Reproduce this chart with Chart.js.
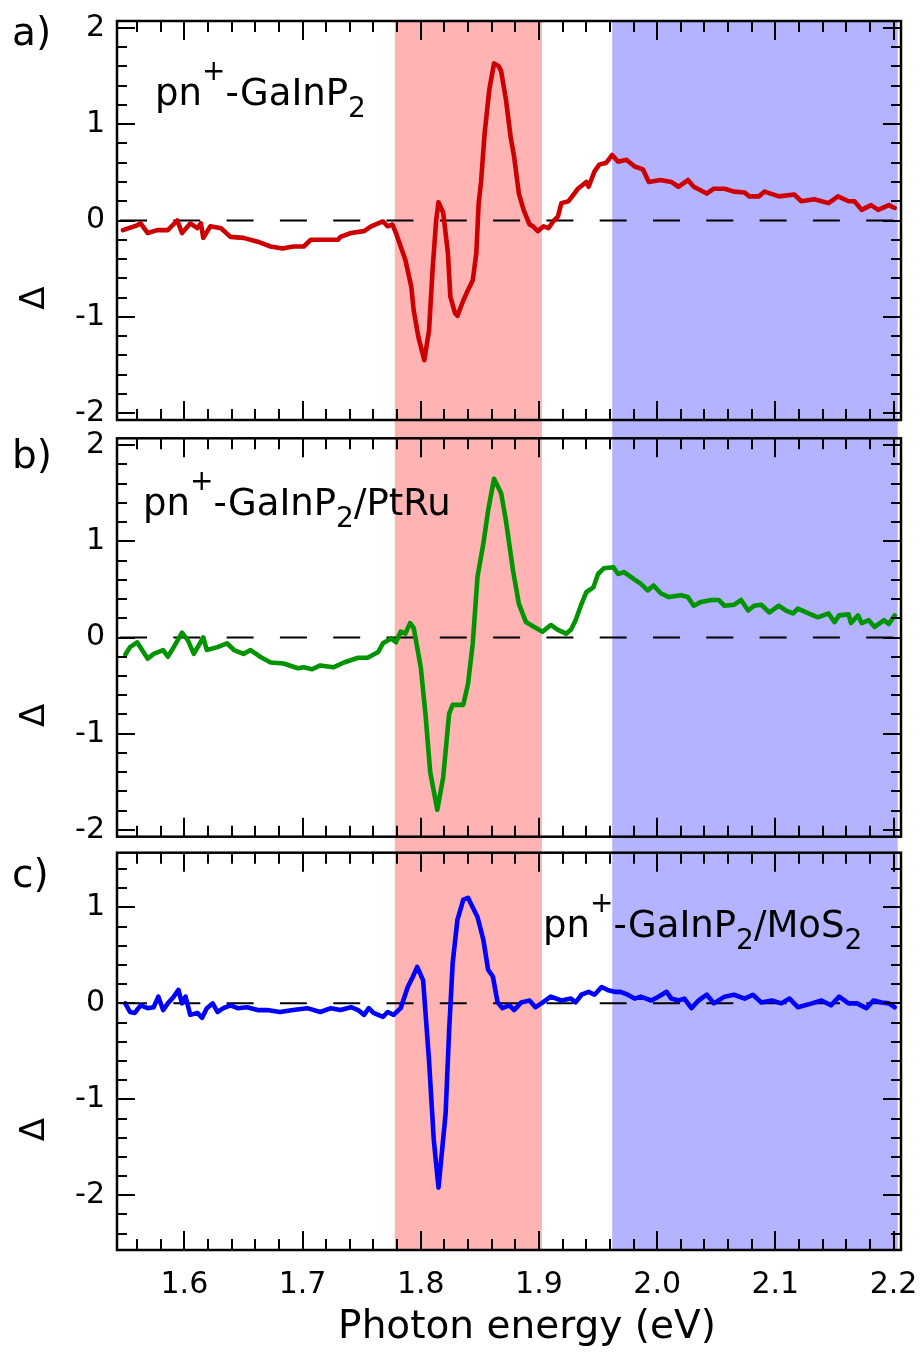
<!DOCTYPE html>
<html><head><meta charset="utf-8">
<script src="https://cdn.jsdelivr.net/npm/chart.js@4.4.0/dist/chart.umd.min.js"></script>
<style>
html,body{margin:0;padding:0;background:#fff;}
#wrap{position:relative;width:921px;height:1352px;}
.panel{position:absolute;left:0;width:921px;}
</style></head><body>
<div id="wrap">
<div class="panel" style="top:0;height:430px"><canvas id="ca"></canvas></div>
<div class="panel" style="top:430px;height:415px"><canvas id="cb"></canvas></div>
<div class="panel" style="top:845px;height:507px"><canvas id="cc"></canvas></div>
</div>
<script>
// ---------- data (photon energy in eV, Δ values) ----------
const energyA = [1.548,1.560,1.563,1.569,1.577,1.586,1.594,1.598,1.605,1.611,1.614,1.616,1.622,1.631,1.639,1.650,1.662,1.673,1.683,1.692,1.701,1.707,1.718,1.730,1.732,1.741,1.752,1.758,1.768,1.772,1.776,1.779,1.783,1.787,1.792,1.794,1.798,1.803,1.807,1.810,1.813,1.815,1.819,1.823,1.825,1.829,1.831,1.836,1.840,1.844,1.847,1.849,1.851,1.854,1.858,1.862,1.866,1.868,1.872,1.876,1.879,1.883,1.887,1.892,1.895,1.899,1.904,1.908,1.912,1.916,1.919,1.925,1.930,1.933,1.940,1.942,1.947,1.951,1.957,1.962,1.967,1.974,1.981,1.988,1.993,2.003,2.012,2.018,2.026,2.031,2.042,2.048,2.057,2.065,2.074,2.078,2.086,2.091,2.103,2.116,2.122,2.133,2.145,2.153,2.162,2.167,2.173,2.181,2.187,2.196,2.201];
const deltaA = [-0.10,-0.05,-0.03,-0.13,-0.10,-0.10,0.00,-0.13,-0.03,-0.08,-0.03,-0.18,-0.06,-0.08,-0.17,-0.18,-0.22,-0.27,-0.29,-0.27,-0.27,-0.20,-0.20,-0.20,-0.17,-0.13,-0.11,-0.06,-0.01,-0.06,-0.04,-0.13,-0.27,-0.41,-0.69,-0.93,-1.21,-1.45,-1.14,-0.51,0.00,0.19,0.08,-0.34,-0.79,-0.96,-0.99,-0.83,-0.72,-0.62,-0.34,0.18,0.40,0.90,1.36,1.63,1.60,1.55,1.26,0.87,0.66,0.28,0.11,-0.04,-0.06,-0.11,-0.06,-0.08,-0.01,0.04,0.18,0.20,0.28,0.33,0.40,0.35,0.51,0.58,0.60,0.68,0.61,0.63,0.56,0.53,0.40,0.42,0.40,0.35,0.42,0.35,0.28,0.33,0.33,0.30,0.29,0.25,0.25,0.30,0.25,0.27,0.20,0.22,0.18,0.25,0.20,0.20,0.11,0.16,0.11,0.16,0.13];

const energyB = [1.550,1.554,1.560,1.569,1.574,1.582,1.586,1.591,1.598,1.603,1.608,1.616,1.619,1.628,1.636,1.642,1.650,1.656,1.664,1.673,1.684,1.696,1.701,1.708,1.715,1.726,1.735,1.747,1.755,1.764,1.768,1.775,1.779,1.783,1.787,1.791,1.794,1.800,1.804,1.808,1.814,1.819,1.824,1.827,1.836,1.840,1.844,1.848,1.853,1.857,1.862,1.868,1.872,1.878,1.883,1.889,1.896,1.903,1.910,1.916,1.923,1.927,1.931,1.936,1.940,1.946,1.950,1.955,1.963,1.967,1.972,1.980,1.986,1.992,1.997,2.003,2.010,2.020,2.026,2.031,2.037,2.046,2.052,2.057,2.065,2.071,2.077,2.082,2.088,2.095,2.103,2.109,2.115,2.119,2.128,2.136,2.145,2.150,2.154,2.162,2.164,2.170,2.173,2.179,2.184,2.192,2.196,2.201];
const deltaB = [-0.18,-0.10,-0.05,-0.22,-0.17,-0.13,-0.20,-0.10,0.05,-0.03,-0.17,0.00,-0.13,-0.10,-0.06,-0.13,-0.17,-0.13,-0.20,-0.26,-0.27,-0.32,-0.31,-0.33,-0.29,-0.31,-0.26,-0.21,-0.21,-0.15,-0.06,-0.01,-0.05,0.06,0.04,0.15,0.10,-0.31,-0.80,-1.40,-1.79,-1.45,-0.79,-0.70,-0.70,-0.48,-0.06,0.63,0.98,1.32,1.65,1.50,1.22,0.70,0.35,0.16,0.11,0.06,0.13,0.08,0.04,0.08,0.18,0.35,0.47,0.52,0.66,0.72,0.73,0.66,0.68,0.61,0.56,0.49,0.54,0.46,0.42,0.44,0.42,0.33,0.37,0.39,0.39,0.33,0.34,0.39,0.28,0.33,0.34,0.26,0.33,0.28,0.25,0.30,0.25,0.21,0.25,0.16,0.23,0.24,0.15,0.23,0.15,0.18,0.11,0.18,0.14,0.23];

const energyC = [1.550,1.554,1.558,1.563,1.569,1.574,1.578,1.582,1.586,1.591,1.595,1.598,1.601,1.605,1.611,1.615,1.619,1.624,1.628,1.633,1.639,1.645,1.653,1.662,1.670,1.681,1.692,1.704,1.715,1.724,1.732,1.741,1.747,1.752,1.756,1.760,1.768,1.772,1.777,1.783,1.789,1.793,1.797,1.802,1.807,1.811,1.815,1.821,1.824,1.827,1.831,1.836,1.840,1.844,1.848,1.853,1.857,1.861,1.865,1.869,1.875,1.879,1.885,1.892,1.897,1.902,1.910,1.919,1.927,1.931,1.936,1.942,1.947,1.953,1.958,1.964,1.969,1.975,1.981,1.986,1.995,2.001,2.008,2.012,2.018,2.023,2.029,2.035,2.042,2.048,2.057,2.065,2.074,2.081,2.088,2.097,2.105,2.112,2.119,2.131,2.139,2.147,2.154,2.162,2.169,2.177,2.183,2.190,2.196,2.201];
const deltaC = [0.00,-0.09,-0.10,-0.02,-0.05,-0.04,0.07,-0.07,0.00,0.07,0.14,0.00,0.07,-0.12,-0.10,-0.15,-0.05,0.00,-0.09,-0.05,-0.02,-0.05,-0.04,-0.07,-0.07,-0.09,-0.07,-0.05,-0.09,-0.05,-0.07,-0.04,-0.07,-0.12,-0.05,-0.10,-0.14,-0.09,-0.12,-0.05,0.17,0.27,0.38,0.24,-0.60,-1.42,-1.92,-1.15,-0.28,0.42,0.87,1.08,1.10,1.00,0.90,0.66,0.35,0.28,0.01,-0.05,-0.02,-0.07,0.01,0.03,-0.04,0.00,0.07,0.03,0.05,0.01,0.09,0.12,0.09,0.17,0.14,0.12,0.12,0.09,0.05,0.07,0.03,0.07,0.12,0.05,0.03,0.05,-0.05,0.03,0.09,0.00,0.07,0.09,0.05,0.09,0.01,0.03,0.00,0.05,-0.04,0.00,0.03,-0.02,0.07,0.00,0.00,-0.05,0.03,0.01,0.00,-0.04];

const xTickValues = [1.6, 1.7, 1.8, 1.9, 2.0, 2.1, 2.2];
const xTickLabels = ['1.6', '1.7', '1.8', '1.9', '2.0', '2.1', '2.2'];
const yTicksAB = [-2, -1, 0, 1, 2];
const yTicksC = [-2, -1, 0, 1];
const xRange = [1.543, 2.2063];
const yRangeAB = [-2.07, 2.07];
const yRangeC = [-2.57, 1.57];
const pinkBand = [1.778, 1.9025];
const blueBand = [1.962, 2.2035];
const panelLabels = ['a)', 'b)', 'c)'];
const sampleA = [['pn','n'],['+','sup'],['-GaInP','n'],['2','sub']];
const sampleB = [['pn','n'],['+','sup'],['-GaInP','n'],['2','sub'],['/PtRu','n']];
const sampleC = [['pn','n'],['+','sup'],['-GaInP','n'],['2','sub'],['/MoS','n'],['2','sub']];
const xTitle = 'Photon energy (eV)';
const yTitle = 'Δ';

// ---------- drawing ----------
const FAM = '"DejaVu Sans", sans-serif';

function drawRich(ctx, segs, x, y, size) {
  ctx.textAlign = 'left';
  ctx.textBaseline = 'alphabetic';
  for (const [t, k] of segs) {
    const fs = k === 'n' ? size : Math.round(size * 0.75);
    ctx.font = fs + 'px ' + FAM;
    const dy = k === 'sup' ? -size * 0.68 : (k === 'sub' ? size * 0.32 : 0);
    ctx.fillText(t, x, y + dy);
    x += ctx.measureText(t).width;
  }
}

const decor = {
  id: 'decor',
  beforeDatasetsDraw(chart, args, o) {
    const {ctx, chartArea: ca, scales: {x, y}} = chart;
    const top = o.extendTop ? 0 : ca.top;
    const bot = o.extendBottom ? chart.height : ca.bottom;
    ctx.save();
    let x0 = x.getPixelForValue(pinkBand[0]), x1 = x.getPixelForValue(pinkBand[1]);
    ctx.fillStyle = '#ffb3b3';
    ctx.fillRect(x0, top, x1 - x0, bot - top);
    x0 = x.getPixelForValue(blueBand[0]); x1 = x.getPixelForValue(blueBand[1]);
    ctx.fillStyle = '#b3b3ff';
    ctx.fillRect(x0, top, x1 - x0, bot - top);
    // dashed zero line
    const y0 = y.getPixelForValue(0);
    ctx.strokeStyle = '#000';
    ctx.lineWidth = 2;
    ctx.setLineDash([27, 26.3]);
    ctx.lineDashOffset = 50.3;
    ctx.beginPath(); ctx.moveTo(ca.left, y0); ctx.lineTo(ca.right, y0); ctx.stroke();
    ctx.restore();
  },
  afterDatasetsDraw(chart, args, o) {
    const {ctx, chartArea: ca, scales: {x, y}} = chart;
    ctx.save();
    ctx.strokeStyle = '#000';
    ctx.lineWidth = 2;
    ctx.setLineDash([]);
    ctx.beginPath();
    for (let i = 78; i <= 110; i++) {
      const px = Math.round(x.getPixelForValue(i / 50));
      const len = i % 5 === 0 ? 19 : 11;
      ctx.moveTo(px, ca.top); ctx.lineTo(px, ca.top + len);
      ctx.moveTo(px, ca.bottom); ctx.lineTo(px, ca.bottom - len);
    }
    const i0 = Math.ceil(y.min * 5 - 1e-9), i1 = Math.floor(y.max * 5 + 1e-9);
    for (let i = i0; i <= i1; i++) {
      const py = Math.round(y.getPixelForValue(i / 5));
      const len = i % 5 === 0 ? 18 : 10;
      ctx.moveTo(ca.left, py); ctx.lineTo(ca.left + len, py);
      ctx.moveTo(ca.right, py); ctx.lineTo(ca.right - len, py);
    }
    ctx.stroke();
    ctx.lineWidth = 2.5;
    ctx.strokeRect(ca.left, ca.top, ca.right - ca.left, ca.bottom - ca.top);
    // texts
    ctx.fillStyle = '#000';
    ctx.font = '39px ' + FAM;
    ctx.textAlign = 'left';
    ctx.textBaseline = 'alphabetic';
    ctx.fillText(o.label, 12, o.labelY);
    drawRich(ctx, o.name, o.nameX, o.nameY, 37);
    if (o.xTitle) {
      ctx.font = '39px ' + FAM;
      ctx.textAlign = 'center';
      ctx.textBaseline = 'alphabetic';
      ctx.fillText(xTitle, 527, ca.bottom + 88);
    }
    ctx.translate(35, ca.top + 277);
    ctx.rotate(-Math.PI / 2);
    ctx.font = '34px ' + FAM;
    ctx.textAlign = 'center';
    ctx.textBaseline = 'middle';
    ctx.fillText(yTitle, 0, 0);
    ctx.restore();
  }
};

function makeChart(id, E, D, color, yRange, yTicks, opt) {
  return new Chart(document.getElementById(id), {
    type: 'line',
    data: { datasets: [{
      data: E.map((e, i) => ({x: e, y: D[i]})),
      borderColor: color, borderWidth: 4.6, pointRadius: 0, tension: 0,
      borderJoinStyle: 'round', borderCapStyle: 'round'
    }]},
    options: {
      responsive: true, maintainAspectRatio: false, animation: false,
      layout: { padding: { left: 0, right: 20, top: opt.padTop, bottom: opt.padBottom } },
      plugins: { legend: {display: false}, tooltip: {enabled: false}, decor: opt.decor },
      scales: {
        x: {
          type: 'linear', min: xRange[0], max: xRange[1], display: opt.showX,
          grid: {display: false, drawTicks: false}, border: {display: false},
          afterBuildTicks: s => { s.ticks = xTickValues.map(v => ({value: v})); },
          ticks: { callback: (v, i) => xTickLabels[i], font: {family: FAM, size: 30}, color: '#000',
                   padding: 17, maxRotation: 0, autoSkip: false },
          title: { display: false },
          afterFit: s => { s.paddingLeft = 0; s.paddingRight = 0; if (opt.showX) s.height = opt.xHeight; }
        },
        y: {
          type: 'linear', min: yRange[0], max: yRange[1],
          grid: {display: false, drawTicks: false}, border: {display: false},
          afterBuildTicks: s => { s.ticks = yTicks.map(v => ({value: v})); },
          ticks: { callback: v => String(v), font: {family: FAM, size: 30}, color: '#000', padding: 12 },
          afterFit: s => { s.width = 117; s.paddingTop = 0; s.paddingBottom = 0; }
        }
      }
    },
    plugins: [decor]
  });
}

makeChart('ca', energyA, deltaA, '#cc0000', yRangeAB, yTicksAB, {
  padTop: 21, padBottom: 10, showX: false,
  decor: {extendTop: false, extendBottom: true, label: panelLabels[0], labelY: 45, name: sampleA, nameX: 155, nameY: 105}
});
makeChart('cb', energyB, deltaB, '#009400', yRangeAB, yTicksAB, {
  padTop: 8.3, padBottom: 8.3, showX: false,
  decor: {extendTop: true, extendBottom: true, label: panelLabels[1], labelY: 38, name: sampleB, nameX: 143, nameY: 85}
});
makeChart('cc', energyC, deltaC, '#0000ff', yRangeC, yTicksC, {
  padTop: 7.7, padBottom: 0, showX: true, xHeight: 102,
  decor: {extendTop: true, extendBottom: false, label: panelLabels[2], labelY: 42, name: sampleC, nameX: 543, nameY: 92, xTitle: true}
});
</script>
</body></html>
